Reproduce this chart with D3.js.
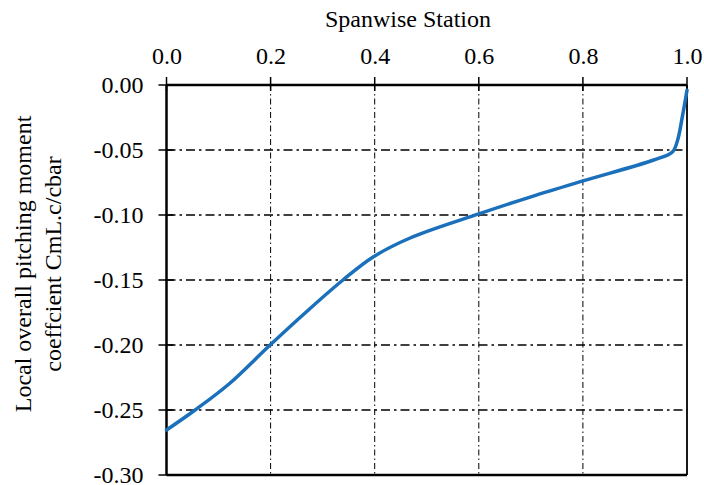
<!DOCTYPE html>
<html><head><meta charset="utf-8">
<script src="https://cdn.jsdelivr.net/npm/d3@7"></script>
<style>body{margin:0;background:#fff}svg{display:block}</style>
</head><body><svg id="c" width="704" height="485"></svg>
<script>
const station = [0, 0.055, 0.12, 0.199, 0.27, 0.339, 0.397, 0.468, 0.6, 0.7, 0.8, 0.936, 0.972, 0.982, 0.991, 1.0];
const cm = [-0.2654, -0.25, -0.2300, -0.20, -0.174, -0.15, -0.1323, -0.1177, -0.0992, -0.086, -0.0738, -0.0577, -0.0515, -0.0423, -0.0245, -0.004];
const xTicks = [0, 0.2, 0.4, 0.6, 0.8, 1.0];
const yTicks = [0, -0.05, -0.10, -0.15, -0.20, -0.25, -0.30];
const xTitle = "Spanwise Station";
const yTitle = ["Local overall pitching moment", "coeffcient CmL.c/cbar"];

const FONT = "'Liberation Serif', 'Times New Roman', serif";
const svg = d3.select("#c");
const x = d3.scaleLinear().domain([0, 1]).range([166.5, 687]);
const y = d3.scaleLinear().domain([0, -0.30]).range([85, 475]);
const fs = 24;

// grid
svg.append("g").selectAll("line").data(yTicks.filter(d => d < 0 && d > -0.30)).join("line")
  .attr("x1", x(0)).attr("x2", x(1)).attr("y1", d => y(d)).attr("y2", d => y(d))
  .attr("stroke", "#000").attr("stroke-width", 1.4).attr("stroke-dasharray", "9,4,2.5,4");
svg.append("g").selectAll("line").data(xTicks.filter(d => d > 0 && d < 1)).join("line")
  .attr("y1", y(0)).attr("y2", y(-0.30)).attr("x1", d => x(d)).attr("x2", d => x(d))
  .attr("stroke", "#000").attr("stroke-width", 1).attr("stroke-dasharray", "6,3,1.5,3");

// frame
const frame = svg.append("g").attr("stroke", "#000");
frame.append("line").attr("x1", x(0)).attr("x2", x(1)).attr("y1", y(0)).attr("y2", y(0)).attr("stroke-width", 2.5);
frame.append("line").attr("x1", x(0)).attr("x2", x(1)).attr("y1", y(-0.30)).attr("y2", y(-0.30)).attr("stroke-width", 2.5);
frame.append("line").attr("x1", x(0)).attr("x2", x(0)).attr("y1", y(0)).attr("y2", y(-0.30)).attr("stroke-width", 2.5);
frame.append("line").attr("x1", x(1)).attr("x2", x(1)).attr("y1", y(0)).attr("y2", y(-0.30)).attr("stroke-width", 1.8);

// axes
const xAxis = d3.axisTop(x).tickValues(xTicks).tickFormat(d3.format(".1f")).tickSize(0).tickPadding(0);
const gx = svg.append("g").attr("transform", `translate(0,${y(0)})`).call(xAxis)
  .attr("font-family", FONT).attr("font-size", fs);
gx.select(".domain").remove();
gx.selectAll("text").attr("y", -21).attr("fill", "#000").style("font-family", FONT).style("font-size", fs + "px");
svg.append("g").selectAll("line").data(xTicks).join("line")
  .attr("x1", d => x(d)).attr("x2", d => x(d)).attr("y1", y(0) - 8).attr("y2", y(0) + 6)
  .attr("stroke", "#000").attr("stroke-width", 1.5);

const yAxis = d3.axisLeft(y).tickValues(yTicks).tickFormat(d => d3.format(".2f")(d).replace("\u2212", "-")).tickSize(0).tickPadding(0);
const gy = svg.append("g").attr("transform", `translate(${x(0)},0)`).call(yAxis)
  .attr("font-family", FONT).attr("font-size", fs);
gy.select(".domain").remove();
gy.selectAll("text").attr("x", -23).attr("fill", "#000").style("font-family", FONT).style("font-size", fs + "px");
svg.append("g").selectAll("line").data(yTicks).join("line")
  .attr("y1", d => y(d)).attr("y2", d => y(d)).attr("x1", x(0) - 8).attr("x2", x(0) + 7)
  .attr("stroke", "#000").attr("stroke-width", 1.5);

// titles
svg.append("text").attr("x", 408).attr("y", 27).attr("text-anchor", "middle")
  .style("font-family", FONT).style("font-size", "24px").text(xTitle);
svg.append("g").attr("transform", "translate(0,264) rotate(-90)").selectAll("text").data(yTitle).join("text")
  .attr("x", 0).attr("y", (d, i) => 31 + i * 30).attr("text-anchor", "middle")
  .style("font-family", FONT).style("font-size", "24px").text(d => d);

// curve
const pts = station.map((s, i) => [s, cm[i]]);
svg.append("path").datum(pts)
  .attr("d", d3.line().x(d => x(d[0])).y(d => y(d[1])).curve(d3.curveCatmullRom.alpha(0.5)))
  .attr("fill", "none").attr("stroke", "#1a70bb").attr("stroke-width", 3.5).attr("stroke-linecap", "round");
</script></body></html>
